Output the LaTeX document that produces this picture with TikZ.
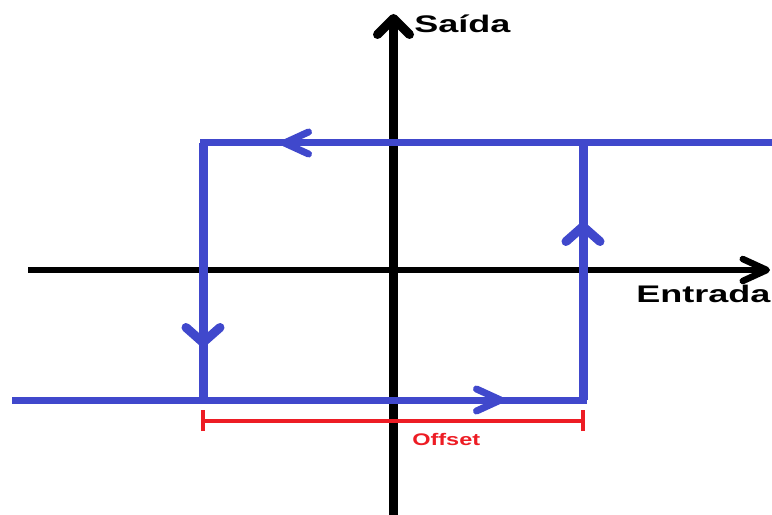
\documentclass[tikz,border=0pt]{standalone}
\usepackage{fontspec}
\setmainfont{Liberation Sans}
\usetikzlibrary{arrows.meta}
\definecolor{loopblue}{RGB}{64,72,204}
\definecolor{offred}{RGB}{237,28,36}
\tikzset{
  loopline/.style={loopblue,line width=7bp,line cap=rect},
  loopvert/.style={loopblue,line width=9bp},
  hbarb/.tip={Straight Barb[length=24bp,width=22bp,round]},
  vbarb/.tip={Straight Barb[length=15bp,width=34bp,round]},
  axislabel/.style={font=\bfseries\fontsize{24bp}{28bp}\selectfont,inner sep=0pt,xscale=1.5,anchor=base west},
}
\begin{document}
\begin{tikzpicture}[x=1bp,y=-1bp]
\useasboundingbox (0,0) rectangle (772,515);
%% axes
\coordinate (x_start) at (28,270);
\coordinate (x_end) at (770,270);
\coordinate (y_start) at (393.5,515);
\coordinate (y_end) at (393.5,14);
\draw [black,line width=6.5bp,-{Straight Barb[length=24bp,width=22bp,round]}] (x_start) -- (x_end);
\draw [black,line width=9bp,-{Straight Barb[length=16bp,width=32bp,round]}] (y_start) -- (y_end);
\node (label_y) at (414,33) [axislabel] {Saída};
\node (label_x) at (636,303) [axislabel] {Entrada};
%% hysteresis loop
\coordinate (loop_in) at (15.5,400);
\coordinate (loop_bl) at (203,400);
\coordinate (loop_br) at (583,400);
\coordinate (loop_tr) at (583,143);
\coordinate (loop_tl) at (203,143);
\coordinate (loop_out) at (775.5,143);
\draw [loopvert] (loop_br) -- (loop_tr);
\draw [loopvert] (loop_tl) -- (loop_bl);
\draw [loopline] (loop_in) -- (loop_br);
\draw [loopline] (loop_out) -- (loop_tl);
\coordinate (tip_bottom) at (504,400);
\coordinate (tip_right) at (583,222);
\coordinate (tip_top) at (281,143);
\coordinate (tip_left) at (203,347);
\draw [loopline,line cap=butt,-{hbarb}] (loop_bl) -- (tip_bottom);
\draw [loopvert,-{vbarb}] (loop_br) -- (tip_right);
\draw [loopline,line cap=butt,-{hbarb}] (loop_tr) -- (tip_top);
\draw [loopvert,-{vbarb}] (loop_tl) -- (tip_left);
%% offset
\coordinate (off_l) at (203,421);
\coordinate (off_r) at (583,421);
\draw [offred,line width=4bp] (off_l) -- (off_r);
\draw [offred,line width=4.5bp] ([yshift=-10bp]off_l) -- ([yshift=11bp]off_l);
\draw [offred,line width=4.5bp] ([yshift=-10bp]off_r) -- ([yshift=11bp]off_r);
\node (label_off) at (412,445) [offred,font=\bfseries\fontsize{16.8bp}{20bp}\selectfont,inner sep=0pt,xscale=1.4,anchor=base west] {Offset};
%
\end{tikzpicture}
\end{document}
